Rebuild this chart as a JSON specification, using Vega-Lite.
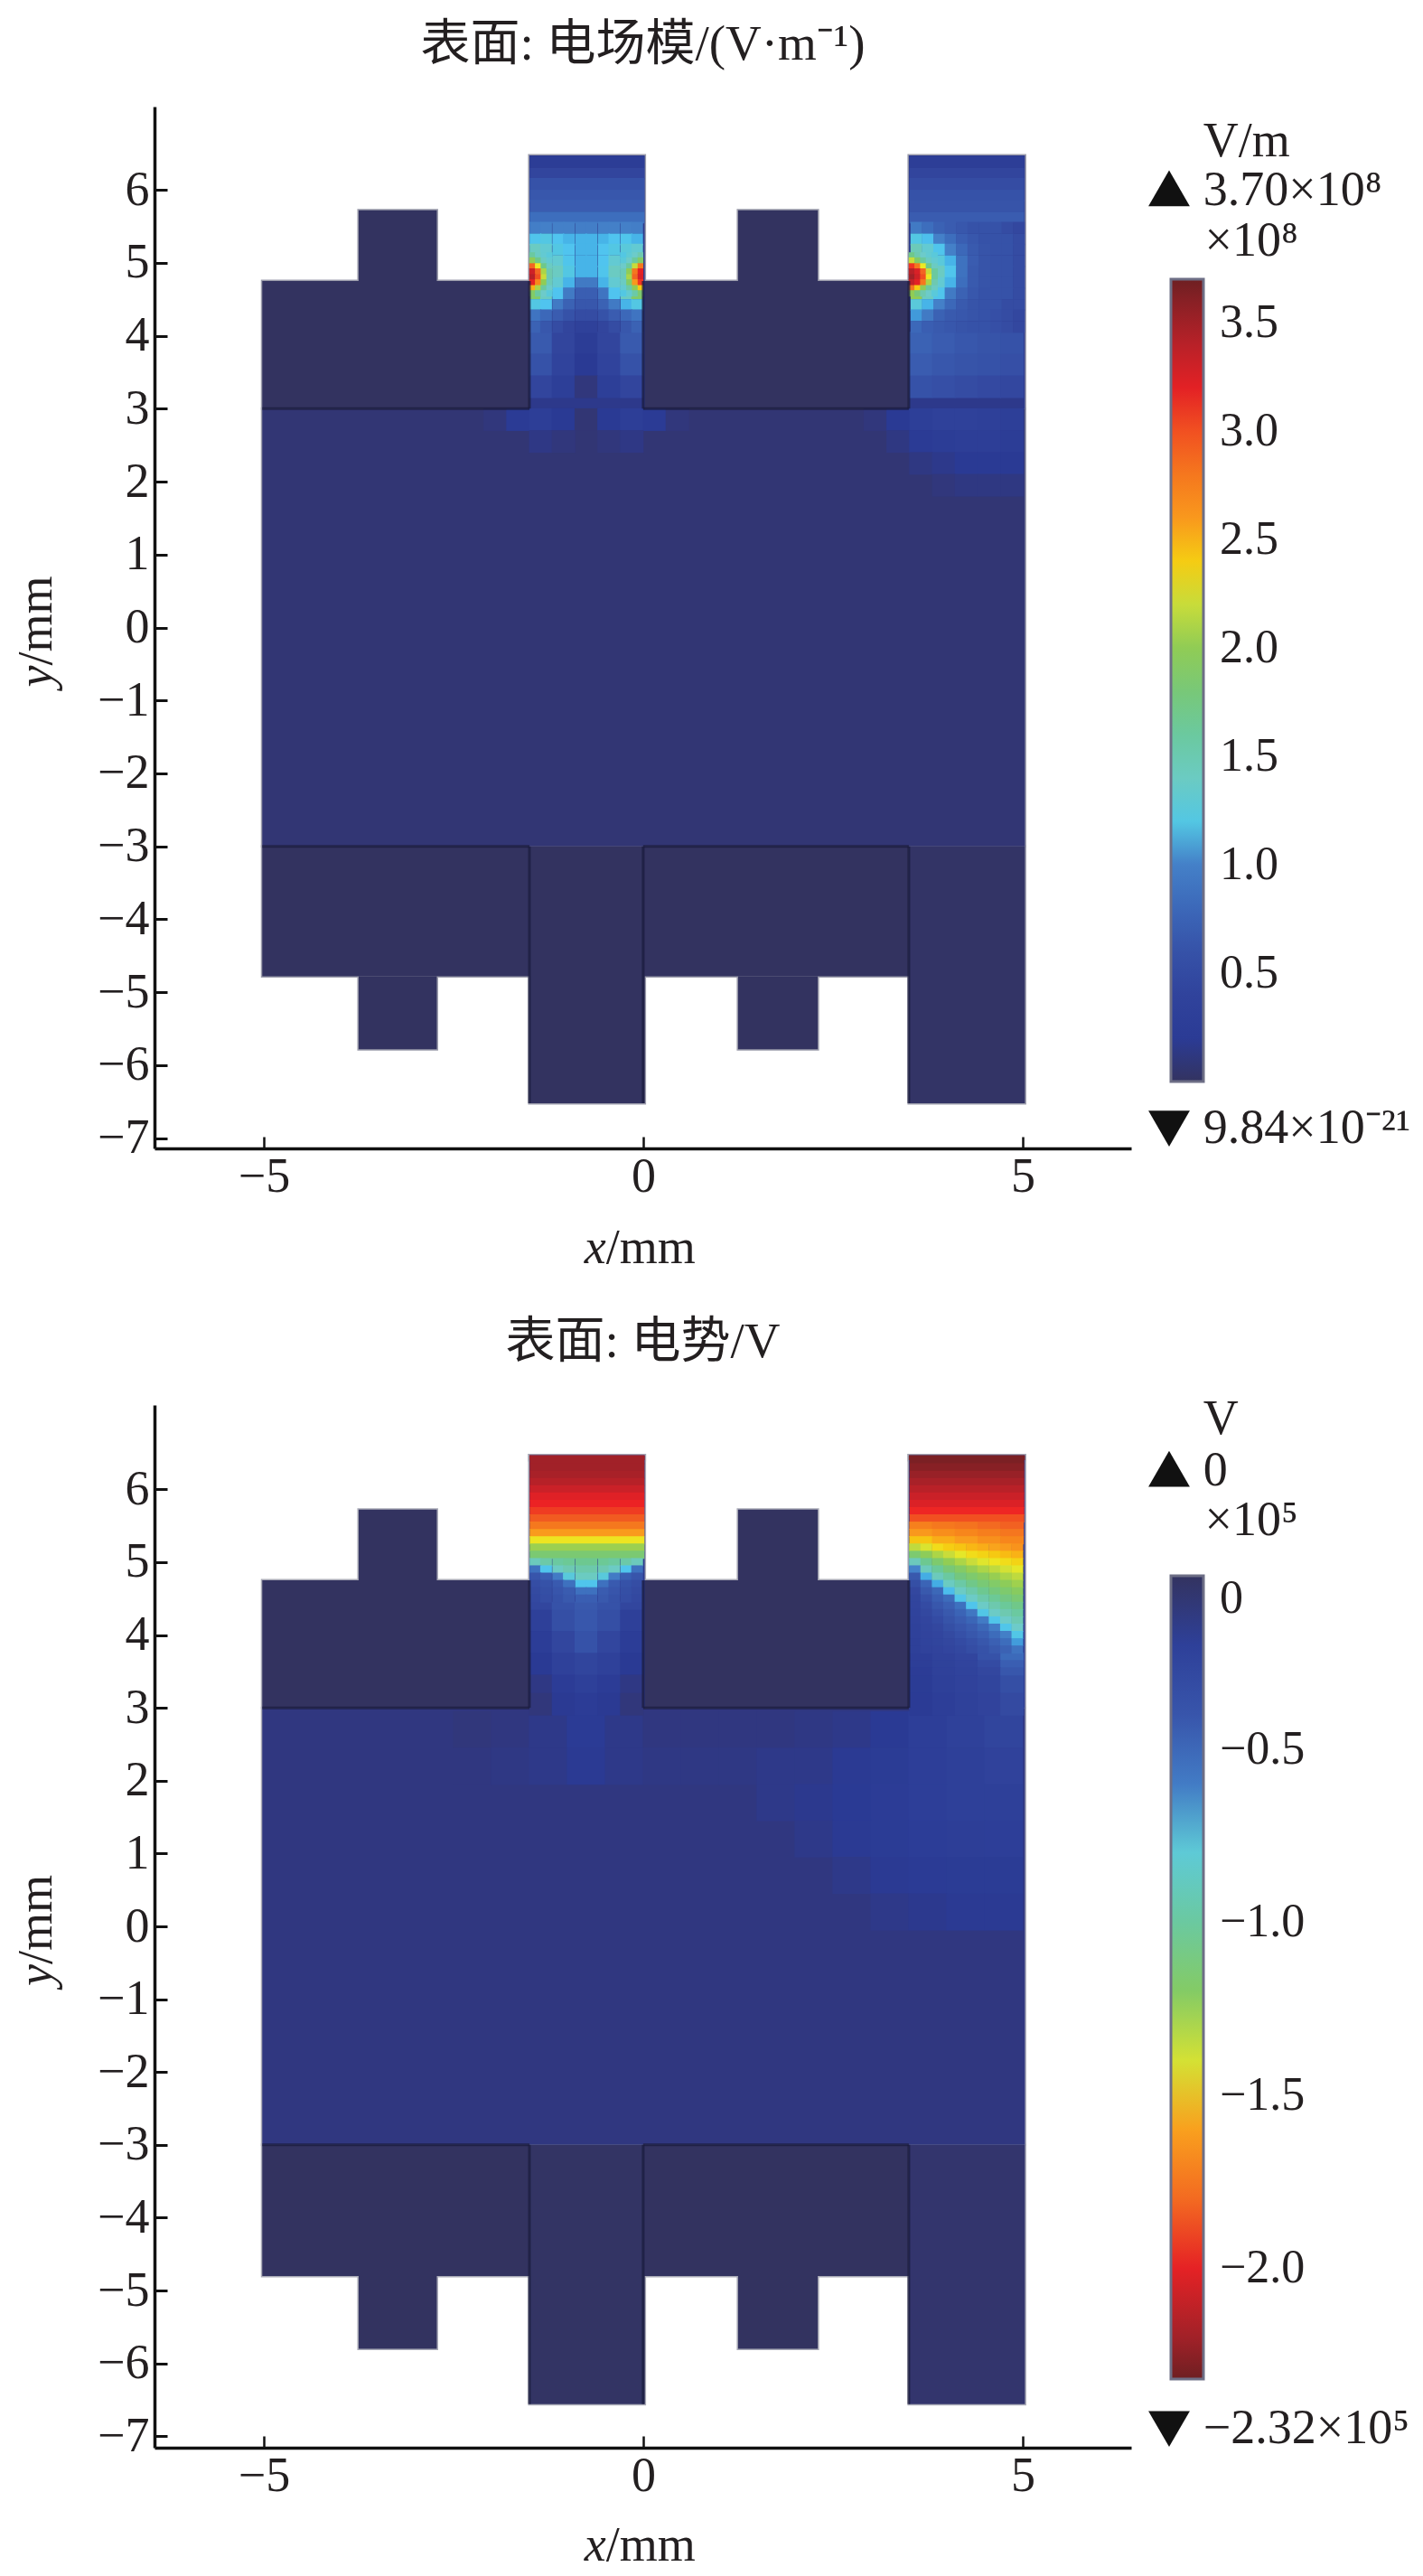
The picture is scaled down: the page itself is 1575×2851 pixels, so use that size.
{"$schema":"https://vega.github.io/schema/vega-lite/v6.json","background":"white","padding":{"left":13,"top":21,"right":0,"bottom":0},"bounds":"flush","spacing":284,"resolve":{"scale":{"color":"independent"}},"config":{"view":{"stroke":null},"text":{"font":"Liberation Serif"}},
"datasets":{
"a_shape":[{"x":-5.02,"X":5.03,"y":-3,"Y":3,"v":0.07},{"x":-5.02,"X":-1.5,"y":3,"Y":4.75,"v":0},{"x":0,"X":3.5,"y":3,"Y":4.75,"v":0},{"x":-3.75,"X":-2.72,"y":4.75,"Y":5.72,"v":0},{"x":1.25,"X":2.3,"y":4.75,"Y":5.72,"v":0},{"x":-1.5,"X":0.02,"y":3,"Y":6.47,"v":0.15},{"x":3.5,"X":5.03,"y":3,"Y":6.47,"v":0.15},{"x":-5.02,"X":-1.5,"y":-4.78,"Y":-3,"v":0},{"x":0,"X":3.5,"y":-4.78,"Y":-3,"v":0},{"x":-3.75,"X":-2.72,"y":-5.78,"Y":-4.78,"v":0},{"x":1.25,"X":2.3,"y":-5.78,"Y":-4.78,"v":0},{"x":-1.5,"X":0.02,"y":-6.52,"Y":-3,"v":0},{"x":3.5,"X":5.03,"y":-6.52,"Y":-3,"v":0.02}],
"a_band":[{"x":-0.74,"y":6.38,"v":0.25},{"x":-0.74,"y":6.22,"v":0.45},{"x":-0.74,"y":6.08,"v":0.6},{"x":-0.74,"y":5.92,"v":0.65},{"x":-0.74,"y":5.78,"v":0.7},{"x":-0.74,"y":5.62,"v":0.85},{"x":4.265,"y":6.38,"v":0.28},{"x":4.265,"y":6.22,"v":0.45},{"x":4.265,"y":6.08,"v":0.55},{"x":4.265,"y":5.92,"v":0.6},{"x":4.265,"y":5.78,"v":0.62},{"x":4.265,"y":5.62,"v":0.7}],
"a_fine":[
{"x":-1.42,"y":5.48,"v":0.98},{"x":-1.28,"y":5.48,"v":1.0},{"x":-1.12,"y":5.48,"v":1.0},{"x":-0.98,"y":5.48,"v":1.0},{"x":-0.82,"y":5.48,"v":0.98},{"x":-0.68,"y":5.48,"v":0.98},{"x":-0.52,"y":5.48,"v":1.0},{"x":-0.38,"y":5.48,"v":1.0},{"x":-0.22,"y":5.48,"v":1.0},{"x":-0.08,"y":5.48,"v":0.98},
{"x":-1.42,"y":5.32,"v":1.15},{"x":-1.28,"y":5.32,"v":1.2},{"x":-1.12,"y":5.32,"v":1.13},{"x":-0.98,"y":5.32,"v":1.1},{"x":-0.82,"y":5.32,"v":1.1},{"x":-0.68,"y":5.32,"v":1.1},{"x":-0.52,"y":5.32,"v":1.1},{"x":-0.38,"y":5.32,"v":1.13},{"x":-0.22,"y":5.32,"v":1.15},{"x":-0.08,"y":5.32,"v":1.1},
{"x":-1.42,"y":5.18,"v":1.4},{"x":-1.28,"y":5.18,"v":1.3},{"x":-1.12,"y":5.18,"v":1.2},{"x":-0.98,"y":5.18,"v":1.13},{"x":-0.82,"y":5.18,"v":1.1},{"x":-0.68,"y":5.18,"v":1.1},{"x":-0.52,"y":5.18,"v":1.13},{"x":-0.38,"y":5.18,"v":1.2},{"x":-0.22,"y":5.18,"v":1.25},{"x":-0.08,"y":5.18,"v":1.3},
{"x":-1.42,"y":5.02,"v":2.0},{"x":-1.28,"y":5.02,"v":1.5},{"x":-1.12,"y":5.02,"v":1.3},{"x":-0.98,"y":5.02,"v":1.15},{"x":-0.82,"y":5.02,"v":1.1},{"x":-0.68,"y":5.02,"v":1.1},{"x":-0.52,"y":5.02,"v":1.13},{"x":-0.38,"y":5.02,"v":1.3},{"x":-0.22,"y":5.02,"v":1.5},{"x":-0.08,"y":5.02,"v":2.0},
{"x":-1.42,"y":4.88,"v":3.2},{"x":-1.28,"y":4.88,"v":2.2},{"x":-1.12,"y":4.88,"v":1.4},{"x":-0.98,"y":4.88,"v":1.2},{"x":-0.82,"y":4.88,"v":1.1},{"x":-0.68,"y":4.88,"v":1.1},{"x":-0.52,"y":4.88,"v":1.15},{"x":-0.38,"y":4.88,"v":1.4},{"x":-0.22,"y":4.88,"v":2.1},{"x":-0.08,"y":4.88,"v":3.1},
{"x":-1.42,"y":4.72,"v":3.0},{"x":-1.28,"y":4.72,"v":2.0},{"x":-1.12,"y":4.72,"v":1.3},{"x":-0.98,"y":4.72,"v":1.1},{"x":-0.82,"y":4.72,"v":0.95},{"x":-0.68,"y":4.72,"v":0.95},{"x":-0.52,"y":4.72,"v":1.1},{"x":-0.38,"y":4.72,"v":1.3},{"x":-0.22,"y":4.72,"v":1.9},{"x":-0.08,"y":4.72,"v":2.9},
{"x":-1.42,"y":4.58,"v":1.9},{"x":-1.28,"y":4.58,"v":1.4},{"x":-1.12,"y":4.58,"v":1.13},{"x":-0.98,"y":4.58,"v":0.95},{"x":-0.82,"y":4.58,"v":0.72},{"x":-0.68,"y":4.58,"v":0.72},{"x":-0.52,"y":4.58,"v":0.9},{"x":-0.38,"y":4.58,"v":1.13},{"x":-0.22,"y":4.58,"v":1.4},{"x":-0.08,"y":4.58,"v":1.9},
{"x":-1.42,"y":4.42,"v":1.2},{"x":-1.28,"y":4.42,"v":1.13},{"x":-1.12,"y":4.42,"v":0.95},{"x":-0.98,"y":4.42,"v":0.75},{"x":-0.82,"y":4.42,"v":0.65},{"x":-0.68,"y":4.42,"v":0.65},{"x":-0.52,"y":4.42,"v":0.75},{"x":-0.38,"y":4.42,"v":0.95},{"x":-0.22,"y":4.42,"v":1.1},{"x":-0.08,"y":4.42,"v":1.2},
{"x":-1.42,"y":4.28,"v":0.9},{"x":-1.28,"y":4.28,"v":0.8},{"x":-1.12,"y":4.28,"v":0.7},{"x":-0.98,"y":4.28,"v":0.6},{"x":-0.82,"y":4.28,"v":0.55},{"x":-0.68,"y":4.28,"v":0.55},{"x":-0.52,"y":4.28,"v":0.6},{"x":-0.38,"y":4.28,"v":0.7},{"x":-0.22,"y":4.28,"v":0.8},{"x":-0.08,"y":4.28,"v":0.9},
{"x":-1.42,"y":4.12,"v":0.75},{"x":-1.28,"y":4.12,"v":0.65},{"x":-1.12,"y":4.12,"v":0.55},{"x":-0.98,"y":4.12,"v":0.45},{"x":-0.82,"y":4.12,"v":0.35},{"x":-0.68,"y":4.12,"v":0.35},{"x":-0.52,"y":4.12,"v":0.45},{"x":-0.38,"y":4.12,"v":0.55},{"x":-0.22,"y":4.12,"v":0.65},{"x":-0.08,"y":4.12,"v":0.75},
{"x":3.6,"y":5.48,"v":0.95},{"x":3.75,"y":5.48,"v":0.85},{"x":3.9,"y":5.48,"v":0.75},{"x":4.05,"y":5.48,"v":0.7},{"x":4.2,"y":5.48,"v":0.65},{"x":4.35,"y":5.48,"v":0.6},{"x":4.5,"y":5.48,"v":0.6},{"x":4.65,"y":5.48,"v":0.6},{"x":4.8,"y":5.48,"v":0.55},{"x":4.95,"y":5.48,"v":0.5},
{"x":3.6,"y":5.32,"v":1.2},{"x":3.75,"y":5.32,"v":1.12},{"x":3.9,"y":5.32,"v":1.0},{"x":4.05,"y":5.32,"v":0.85},{"x":4.2,"y":5.32,"v":0.72},{"x":4.35,"y":5.32,"v":0.65},{"x":4.5,"y":5.32,"v":0.6},{"x":4.65,"y":5.32,"v":0.6},{"x":4.8,"y":5.32,"v":0.6},{"x":4.95,"y":5.32,"v":0.55},
{"x":3.6,"y":5.18,"v":1.45},{"x":3.75,"y":5.18,"v":1.3},{"x":3.9,"y":5.18,"v":1.15},{"x":4.05,"y":5.18,"v":1.0},{"x":4.2,"y":5.18,"v":0.8},{"x":4.35,"y":5.18,"v":0.68},{"x":4.5,"y":5.18,"v":0.62},{"x":4.65,"y":5.18,"v":0.6},{"x":4.8,"y":5.18,"v":0.6},{"x":4.95,"y":5.18,"v":0.55},
{"x":3.6,"y":5.02,"v":2.2},{"x":3.75,"y":5.02,"v":1.6},{"x":3.9,"y":5.02,"v":1.25},{"x":4.05,"y":5.02,"v":1.1},{"x":4.2,"y":5.02,"v":0.88},{"x":4.35,"y":5.02,"v":0.7},{"x":4.5,"y":5.02,"v":0.62},{"x":4.65,"y":5.02,"v":0.6},{"x":4.8,"y":5.02,"v":0.6},{"x":4.95,"y":5.02,"v":0.55},
{"x":3.6,"y":4.88,"v":3.3},{"x":3.75,"y":4.88,"v":2.3},{"x":3.9,"y":4.88,"v":1.4},{"x":4.05,"y":4.88,"v":1.15},{"x":4.2,"y":4.88,"v":0.88},{"x":4.35,"y":4.88,"v":0.68},{"x":4.5,"y":4.88,"v":0.62},{"x":4.65,"y":4.88,"v":0.6},{"x":4.8,"y":4.88,"v":0.6},{"x":4.95,"y":4.88,"v":0.55},
{"x":3.6,"y":4.72,"v":3.1},{"x":3.75,"y":4.72,"v":2.1},{"x":3.9,"y":4.72,"v":1.3},{"x":4.05,"y":4.72,"v":1.1},{"x":4.2,"y":4.72,"v":0.85},{"x":4.35,"y":4.72,"v":0.68},{"x":4.5,"y":4.72,"v":0.62},{"x":4.65,"y":4.72,"v":0.6},{"x":4.8,"y":4.72,"v":0.6},{"x":4.95,"y":4.72,"v":0.55},
{"x":3.6,"y":4.58,"v":2.0},{"x":3.75,"y":4.58,"v":1.4},{"x":3.9,"y":4.58,"v":1.15},{"x":4.05,"y":4.58,"v":0.95},{"x":4.2,"y":4.58,"v":0.75},{"x":4.35,"y":4.58,"v":0.65},{"x":4.5,"y":4.58,"v":0.6},{"x":4.65,"y":4.58,"v":0.6},{"x":4.8,"y":4.58,"v":0.6},{"x":4.95,"y":4.58,"v":0.55},
{"x":3.6,"y":4.42,"v":1.25},{"x":3.75,"y":4.42,"v":1.1},{"x":3.9,"y":4.42,"v":1.0},{"x":4.05,"y":4.42,"v":0.8},{"x":4.2,"y":4.42,"v":0.68},{"x":4.35,"y":4.42,"v":0.62},{"x":4.5,"y":4.42,"v":0.6},{"x":4.65,"y":4.42,"v":0.6},{"x":4.8,"y":4.42,"v":0.55},{"x":4.95,"y":4.42,"v":0.55},
{"x":3.6,"y":4.28,"v":1.05},{"x":3.75,"y":4.28,"v":0.95},{"x":3.9,"y":4.28,"v":0.75},{"x":4.05,"y":4.28,"v":0.68},{"x":4.2,"y":4.28,"v":0.65},{"x":4.35,"y":4.28,"v":0.62},{"x":4.5,"y":4.28,"v":0.6},{"x":4.65,"y":4.28,"v":0.58},{"x":4.8,"y":4.28,"v":0.55},{"x":4.95,"y":4.28,"v":0.5},
{"x":3.6,"y":4.12,"v":0.8},{"x":3.75,"y":4.12,"v":0.72},{"x":3.9,"y":4.12,"v":0.68},{"x":4.05,"y":4.12,"v":0.65},{"x":4.2,"y":4.12,"v":0.62},{"x":4.35,"y":4.12,"v":0.6},{"x":4.5,"y":4.12,"v":0.6},{"x":4.65,"y":4.12,"v":0.58},{"x":4.8,"y":4.12,"v":0.55},{"x":4.95,"y":4.12,"v":0.5}],
"a_hot":[
{"x":-1.46,"y":5.1,"v":1.6},{"x":-1.385,"y":5.1,"v":1.4},{"x":-1.31,"y":5.1,"v":1.3},{"x":-1.235,"y":5.1,"v":1.25},
{"x":-1.46,"y":5.03,"v":2.0},{"x":-1.385,"y":5.03,"v":1.7},{"x":-1.31,"y":5.03,"v":1.4},{"x":-1.235,"y":5.03,"v":1.3},
{"x":-1.46,"y":4.95,"v":2.9},{"x":-1.385,"y":4.95,"v":2.3},{"x":-1.31,"y":4.95,"v":1.7},{"x":-1.235,"y":4.95,"v":1.4},
{"x":-1.46,"y":4.88,"v":3.3},{"x":-1.385,"y":4.88,"v":2.9},{"x":-1.31,"y":4.88,"v":2.1},{"x":-1.235,"y":4.88,"v":1.5},
{"x":-1.46,"y":4.8,"v":3.4},{"x":-1.385,"y":4.8,"v":3.0},{"x":-1.31,"y":4.8,"v":2.2},{"x":-1.235,"y":4.8,"v":1.5},
{"x":-1.46,"y":4.73,"v":3.2},{"x":-1.385,"y":4.73,"v":2.7},{"x":-1.31,"y":4.73,"v":2.0},{"x":-1.235,"y":4.73,"v":1.45},
{"x":-1.46,"y":4.65,"v":2.5},{"x":-1.385,"y":4.65,"v":2.1},{"x":-1.31,"y":4.65,"v":1.6},{"x":-1.235,"y":4.65,"v":1.35},
{"x":-1.46,"y":4.58,"v":1.9},{"x":-1.385,"y":4.58,"v":1.6},{"x":-1.31,"y":4.58,"v":1.35},{"x":-1.235,"y":4.58,"v":1.25},
{"x":-0.04,"y":5.1,"v":1.5},{"x":-0.115,"y":5.1,"v":1.35},{"x":-0.19,"y":5.1,"v":1.28},{"x":-0.265,"y":5.1,"v":1.2},
{"x":-0.04,"y":5.03,"v":1.9},{"x":-0.115,"y":5.03,"v":1.6},{"x":-0.19,"y":5.03,"v":1.35},{"x":-0.265,"y":5.03,"v":1.25},
{"x":-0.04,"y":4.95,"v":2.8},{"x":-0.115,"y":4.95,"v":2.2},{"x":-0.19,"y":4.95,"v":1.6},{"x":-0.265,"y":4.95,"v":1.35},
{"x":-0.04,"y":4.88,"v":3.2},{"x":-0.115,"y":4.88,"v":2.8},{"x":-0.19,"y":4.88,"v":2.0},{"x":-0.265,"y":4.88,"v":1.45},
{"x":-0.04,"y":4.8,"v":3.25},{"x":-0.115,"y":4.8,"v":2.9},{"x":-0.19,"y":4.8,"v":2.1},{"x":-0.265,"y":4.8,"v":1.45},
{"x":-0.04,"y":4.73,"v":3.1},{"x":-0.115,"y":4.73,"v":2.6},{"x":-0.19,"y":4.73,"v":1.9},{"x":-0.265,"y":4.73,"v":1.4},
{"x":-0.04,"y":4.65,"v":2.4},{"x":-0.115,"y":4.65,"v":2.0},{"x":-0.19,"y":4.65,"v":1.55},{"x":-0.265,"y":4.65,"v":1.3},
{"x":-0.04,"y":4.58,"v":1.85},{"x":-0.115,"y":4.58,"v":1.55},{"x":-0.19,"y":4.58,"v":1.3},{"x":-0.265,"y":4.58,"v":1.2},
{"x":3.54,"y":5.1,"v":1.7},{"x":3.615,"y":5.1,"v":1.5},{"x":3.69,"y":5.1,"v":1.35},{"x":3.765,"y":5.1,"v":1.3},{"x":3.84,"y":5.1,"v":1.25},
{"x":3.54,"y":5.03,"v":2.2},{"x":3.615,"y":5.03,"v":1.9},{"x":3.69,"y":5.03,"v":1.6},{"x":3.765,"y":5.03,"v":1.4},{"x":3.84,"y":5.03,"v":1.3},
{"x":3.54,"y":4.95,"v":3.1},{"x":3.615,"y":4.95,"v":2.8},{"x":3.69,"y":4.95,"v":2.3},{"x":3.765,"y":4.95,"v":1.7},{"x":3.84,"y":4.95,"v":1.4},
{"x":3.54,"y":4.88,"v":3.4},{"x":3.615,"y":4.88,"v":3.25},{"x":3.69,"y":4.88,"v":2.9},{"x":3.765,"y":4.88,"v":2.2},{"x":3.84,"y":4.88,"v":1.6},
{"x":3.54,"y":4.8,"v":3.5},{"x":3.615,"y":4.8,"v":3.3},{"x":3.69,"y":4.8,"v":3.0},{"x":3.765,"y":4.8,"v":2.3},{"x":3.84,"y":4.8,"v":1.6},
{"x":3.54,"y":4.73,"v":3.35},{"x":3.615,"y":4.73,"v":3.2},{"x":3.69,"y":4.73,"v":2.8},{"x":3.765,"y":4.73,"v":2.1},{"x":3.84,"y":4.73,"v":1.5},
{"x":3.54,"y":4.65,"v":2.8},{"x":3.615,"y":4.65,"v":2.4},{"x":3.69,"y":4.65,"v":2.0},{"x":3.765,"y":4.65,"v":1.6},{"x":3.84,"y":4.65,"v":1.4},
{"x":3.54,"y":4.58,"v":2.0},{"x":3.615,"y":4.58,"v":1.8},{"x":3.69,"y":4.58,"v":1.5},{"x":3.765,"y":4.58,"v":1.35},{"x":3.84,"y":4.58,"v":1.25}],
"a_coarse":[
{"x":-1.35,"y":3.9,"v":0.68},{"x":-1.05,"y":3.9,"v":0.45},{"x":-0.75,"y":3.9,"v":0.25},{"x":-0.45,"y":3.9,"v":0.45},{"x":-0.15,"y":3.9,"v":0.68},
{"x":-1.35,"y":3.6,"v":0.6},{"x":-1.05,"y":3.6,"v":0.4},{"x":-0.75,"y":3.6,"v":0.18},{"x":-0.45,"y":3.6,"v":0.4},{"x":-0.15,"y":3.6,"v":0.6},
{"x":-1.35,"y":3.3,"v":0.45},{"x":-1.05,"y":3.3,"v":0.3},{"x":-0.75,"y":3.3,"v":0.1},{"x":-0.45,"y":3.3,"v":0.3},{"x":-0.15,"y":3.3,"v":0.45},
{"x":3.66,"y":3.9,"v":0.75},{"x":3.96,"y":3.9,"v":0.7},{"x":4.26,"y":3.9,"v":0.65},{"x":4.56,"y":3.9,"v":0.62},{"x":4.86,"y":3.9,"v":0.6},
{"x":3.66,"y":3.6,"v":0.7},{"x":3.96,"y":3.6,"v":0.65},{"x":4.26,"y":3.6,"v":0.62},{"x":4.56,"y":3.6,"v":0.6},{"x":4.86,"y":3.6,"v":0.58},
{"x":3.66,"y":3.3,"v":0.6},{"x":3.96,"y":3.3,"v":0.58},{"x":4.26,"y":3.3,"v":0.55},{"x":4.56,"y":3.3,"v":0.52},{"x":4.86,"y":3.3,"v":0.5},
{"x":-1.95,"y":2.85,"v":0.1},{"x":-1.65,"y":2.85,"v":0.2},{"x":-1.35,"y":2.85,"v":0.28},{"x":-1.05,"y":2.85,"v":0.18},{"x":-0.75,"y":2.85,"v":0.07},{"x":-0.45,"y":2.85,"v":0.18},{"x":-0.15,"y":2.85,"v":0.28},{"x":0.15,"y":2.85,"v":0.2},{"x":0.45,"y":2.85,"v":0.1},
{"x":-1.35,"y":2.55,"v":0.13},{"x":-1.05,"y":2.55,"v":0.1},{"x":-0.45,"y":2.55,"v":0.1},{"x":-0.15,"y":2.55,"v":0.13},
{"x":3.06,"y":2.85,"v":0.1},{"x":3.36,"y":2.85,"v":0.18},{"x":3.66,"y":2.85,"v":0.3},{"x":3.96,"y":2.85,"v":0.35},{"x":4.26,"y":2.85,"v":0.35},{"x":4.56,"y":2.85,"v":0.33},{"x":4.86,"y":2.85,"v":0.3},
{"x":3.36,"y":2.55,"v":0.12},{"x":3.66,"y":2.55,"v":0.2},{"x":3.96,"y":2.55,"v":0.25},{"x":4.26,"y":2.55,"v":0.28},{"x":4.56,"y":2.55,"v":0.28},{"x":4.86,"y":2.55,"v":0.25},
{"x":3.66,"y":2.25,"v":0.12},{"x":3.96,"y":2.25,"v":0.15},{"x":4.26,"y":2.25,"v":0.18},{"x":4.56,"y":2.25,"v":0.18},{"x":4.86,"y":2.25,"v":0.18},
{"x":3.96,"y":1.95,"v":0.1},{"x":4.26,"y":1.95,"v":0.12},{"x":4.56,"y":1.95,"v":0.12},{"x":4.86,"y":1.95,"v":0.12}],
"a_line":[{"x":-5.02,"X":-1.5,"y":3,"Y":3},{"x":0,"X":3.5,"y":3,"Y":3},{"x":-1.5,"X":-1.5,"y":3,"Y":4.75},{"x":0,"X":0,"y":3,"Y":4.75},{"x":3.5,"X":3.5,"y":3,"Y":4.75},{"x":-5.02,"X":-1.5,"y":-3,"Y":-3},{"x":0,"X":3.5,"y":-3,"Y":-3},{"x":-1.5,"X":-1.5,"y":-6.52,"Y":-3},{"x":0,"X":0,"y":-6.52,"Y":-3},{"x":3.5,"X":3.5,"y":-6.52,"Y":-3}],
"a_text":[{"x":7.38,"y":6.66,"t":"V/m"},{"x":7.38,"y":5.99,"t":"3.70×10⁸"},{"x":7.4,"y":5.3,"t":"×10⁸"},{"x":7.38,"y":-6.87,"t":"9.84×10⁻²¹"}],
"a_up":[{"x":6.93,"y":6.02}],"a_down":[{"x":6.93,"y":-6.87}],
"b_shape":[{"x":-5.02,"X":5.03,"y":-3,"Y":3,"v":-0.07},{"x":-5.02,"X":-1.5,"y":3,"Y":4.75,"v":0},{"x":0,"X":3.5,"y":3,"Y":4.75,"v":0},{"x":-3.75,"X":-2.72,"y":4.75,"Y":5.72,"v":0},{"x":1.25,"X":2.3,"y":4.75,"Y":5.72,"v":0},{"x":-1.5,"X":0.02,"y":3,"Y":6.47,"v":-0.1},{"x":3.5,"X":5.03,"y":3,"Y":6.47,"v":-0.1},{"x":-1.5,"X":0.02,"y":6.4,"Y":6.47,"v":-2.2},{"x":3.5,"X":5.03,"y":6.4,"Y":6.47,"v":-2.29},{"x":-5.02,"X":-1.5,"y":-4.8,"Y":-3,"v":0},{"x":0,"X":3.5,"y":-4.8,"Y":-3,"v":0},{"x":-3.75,"X":-2.72,"y":-5.8,"Y":-4.8,"v":0},{"x":1.25,"X":2.3,"y":-5.8,"Y":-4.8,"v":0},{"x":-1.5,"X":0.02,"y":-6.56,"Y":-3,"v":-0.01},{"x":3.5,"X":5.03,"y":-6.56,"Y":-3,"v":-0.03}],
"b_band":[{"x":-0.74,"y":6.4,"v":-2.2},{"x":-0.74,"y":6.3,"v":-2.2},{"x":-0.74,"y":6.2,"v":-2.18},{"x":-0.74,"y":6.1,"v":-2.14},{"x":-0.74,"y":6.0,"v":-2.08},{"x":-0.74,"y":5.9,"v":-2.02},{"x":-0.74,"y":5.8,"v":-1.98},{"x":-0.74,"y":5.7,"v":-1.93},{"x":-0.74,"y":5.6,"v":-1.85},{"x":-0.74,"y":5.5,"v":-1.75},{"x":-0.74,"y":5.4,"v":-1.62},{"x":-0.74,"y":5.3,"v":-1.45},{"x":-0.74,"y":5.2,"v":-1.28},{"x":-0.74,"y":5.1,"v":-1.15},
{"x":4.265,"y":6.4,"v":-2.29},{"x":4.265,"y":6.3,"v":-2.26},{"x":4.265,"y":6.2,"v":-2.22},{"x":4.265,"y":6.1,"v":-2.18},{"x":4.265,"y":6.0,"v":-2.13},{"x":4.265,"y":5.9,"v":-2.08},{"x":4.265,"y":5.8,"v":-2.03},{"x":4.265,"y":5.7,"v":-1.97},{"x":4.265,"y":5.6,"v":-1.88}],
"b_cell":[
{"x":-1.35,"y":4.4,"v":-0.3},{"x":-1.05,"y":4.4,"v":-0.38},{"x":-0.75,"y":4.4,"v":-0.42},{"x":-0.45,"y":4.4,"v":-0.38},{"x":-0.15,"y":4.4,"v":-0.3},
{"x":3.66,"y":5.5,"v":-1.72},{"x":3.96,"y":5.5,"v":-1.75},{"x":4.26,"y":5.5,"v":-1.77},{"x":4.56,"y":5.5,"v":-1.8},{"x":4.86,"y":5.5,"v":-1.83},
{"x":3.66,"y":5.4,"v":-1.63},{"x":3.96,"y":5.4,"v":-1.67},{"x":4.26,"y":5.4,"v":-1.7},{"x":4.56,"y":5.4,"v":-1.73},{"x":4.86,"y":5.4,"v":-1.76},
{"x":3.66,"y":5.3,"v":-1.52},{"x":3.96,"y":5.3,"v":-1.57},{"x":4.26,"y":5.3,"v":-1.61},{"x":4.56,"y":5.3,"v":-1.66},{"x":4.86,"y":5.3,"v":-1.7},
{"x":3.66,"y":3.7,"v":-0.18},{"x":3.96,"y":3.7,"v":-0.24},{"x":4.26,"y":3.7,"v":-0.29},{"x":4.56,"y":3.7,"v":-0.38},{"x":4.86,"y":3.7,"v":-0.51},
{"x":3.66,"y":3.6,"v":-0.17},{"x":3.96,"y":3.6,"v":-0.23},{"x":4.26,"y":3.6,"v":-0.27},{"x":4.56,"y":3.6,"v":-0.34},{"x":4.86,"y":3.6,"v":-0.45},
{"x":3.66,"y":3.5,"v":-0.15},{"x":3.96,"y":3.5,"v":-0.22},{"x":4.26,"y":3.5,"v":-0.25},{"x":4.56,"y":3.5,"v":-0.31},{"x":4.86,"y":3.5,"v":-0.41}],
"b_fine":[
{"x":-1.42,"y":5.0,"v":-0.9},{"x":-1.28,"y":5.0,"v":-0.97},{"x":-1.12,"y":5.0,"v":-1.0},{"x":-0.98,"y":5.0,"v":-1.03},{"x":-0.82,"y":5.0,"v":-1.05},{"x":-0.68,"y":5.0,"v":-1.05},{"x":-0.52,"y":5.0,"v":-1.03},{"x":-0.38,"y":5.0,"v":-1.0},{"x":-0.22,"y":5.0,"v":-0.97},{"x":-0.08,"y":5.0,"v":-0.9},
{"x":-1.42,"y":4.9,"v":-0.55},{"x":-1.28,"y":4.9,"v":-0.72},{"x":-1.12,"y":4.9,"v":-0.87},{"x":-0.98,"y":4.9,"v":-0.93},{"x":-0.82,"y":4.9,"v":-0.96},{"x":-0.68,"y":4.9,"v":-0.96},{"x":-0.52,"y":4.9,"v":-0.93},{"x":-0.38,"y":4.9,"v":-0.87},{"x":-0.22,"y":4.9,"v":-0.72},{"x":-0.08,"y":4.9,"v":-0.55},
{"x":-1.42,"y":4.8,"v":-0.4},{"x":-1.28,"y":4.8,"v":-0.45},{"x":-1.12,"y":4.8,"v":-0.6},{"x":-0.98,"y":4.8,"v":-0.78},{"x":-0.82,"y":4.8,"v":-0.88},{"x":-0.68,"y":4.8,"v":-0.88},{"x":-0.52,"y":4.8,"v":-0.78},{"x":-0.38,"y":4.8,"v":-0.6},{"x":-0.22,"y":4.8,"v":-0.45},{"x":-0.08,"y":4.8,"v":-0.4},
{"x":-1.42,"y":4.7,"v":-0.35},{"x":-1.28,"y":4.7,"v":-0.38},{"x":-1.12,"y":4.7,"v":-0.43},{"x":-0.98,"y":4.7,"v":-0.55},{"x":-0.82,"y":4.7,"v":-0.72},{"x":-0.68,"y":4.7,"v":-0.72},{"x":-0.52,"y":4.7,"v":-0.55},{"x":-0.38,"y":4.7,"v":-0.43},{"x":-0.22,"y":4.7,"v":-0.38},{"x":-0.08,"y":4.7,"v":-0.35},
{"x":-1.42,"y":4.6,"v":-0.33},{"x":-1.28,"y":4.6,"v":-0.36},{"x":-1.12,"y":4.6,"v":-0.4},{"x":-0.98,"y":4.6,"v":-0.44},{"x":-0.82,"y":4.6,"v":-0.55},{"x":-0.68,"y":4.6,"v":-0.55},{"x":-0.52,"y":4.6,"v":-0.44},{"x":-0.38,"y":4.6,"v":-0.4},{"x":-0.22,"y":4.6,"v":-0.36},{"x":-0.08,"y":4.6,"v":-0.33},
{"x":-1.42,"y":4.5,"v":-0.32},{"x":-1.28,"y":4.5,"v":-0.35},{"x":-1.12,"y":4.5,"v":-0.38},{"x":-0.98,"y":4.5,"v":-0.42},{"x":-0.82,"y":4.5,"v":-0.45},{"x":-0.68,"y":4.5,"v":-0.45},{"x":-0.52,"y":4.5,"v":-0.42},{"x":-0.38,"y":4.5,"v":-0.38},{"x":-0.22,"y":4.5,"v":-0.35},{"x":-0.08,"y":4.5,"v":-0.32},
{"x":3.58,"y":5.2,"v":-1.36},{"x":3.73,"y":5.2,"v":-1.41},{"x":3.88,"y":5.2,"v":-1.47},{"x":4.03,"y":5.2,"v":-1.5},{"x":4.18,"y":5.2,"v":-1.52},{"x":4.33,"y":5.2,"v":-1.55},{"x":4.48,"y":5.2,"v":-1.57},{"x":4.63,"y":5.2,"v":-1.59},{"x":4.78,"y":5.2,"v":-1.62},{"x":4.93,"y":5.2,"v":-1.65},
{"x":3.58,"y":5.1,"v":-1.16},{"x":3.73,"y":5.1,"v":-1.24},{"x":3.88,"y":5.1,"v":-1.32},{"x":4.03,"y":5.1,"v":-1.38},{"x":4.18,"y":5.1,"v":-1.43},{"x":4.33,"y":5.1,"v":-1.47},{"x":4.48,"y":5.1,"v":-1.49},{"x":4.63,"y":5.1,"v":-1.51},{"x":4.78,"y":5.1,"v":-1.54},{"x":4.93,"y":5.1,"v":-1.56},
{"x":3.58,"y":5.0,"v":-0.9},{"x":3.73,"y":5.0,"v":-1.05},{"x":3.88,"y":5.0,"v":-1.17},{"x":4.03,"y":5.0,"v":-1.26},{"x":4.18,"y":5.0,"v":-1.32},{"x":4.33,"y":5.0,"v":-1.38},{"x":4.48,"y":5.0,"v":-1.42},{"x":4.63,"y":5.0,"v":-1.45},{"x":4.78,"y":5.0,"v":-1.47},{"x":4.93,"y":5.0,"v":-1.49},
{"x":3.58,"y":4.9,"v":-0.63},{"x":3.73,"y":4.9,"v":-0.9},{"x":3.88,"y":4.9,"v":-1.02},{"x":4.03,"y":4.9,"v":-1.13},{"x":4.18,"y":4.9,"v":-1.2},{"x":4.33,"y":4.9,"v":-1.27},{"x":4.48,"y":4.9,"v":-1.32},{"x":4.63,"y":4.9,"v":-1.36},{"x":4.78,"y":4.9,"v":-1.4},{"x":4.93,"y":4.9,"v":-1.43},
{"x":3.58,"y":4.8,"v":-0.42},{"x":3.73,"y":4.8,"v":-0.68},{"x":3.88,"y":4.8,"v":-0.9},{"x":4.03,"y":4.8,"v":-1.0},{"x":4.18,"y":4.8,"v":-1.1},{"x":4.33,"y":4.8,"v":-1.17},{"x":4.48,"y":4.8,"v":-1.22},{"x":4.63,"y":4.8,"v":-1.27},{"x":4.78,"y":4.8,"v":-1.32},{"x":4.93,"y":4.8,"v":-1.36},
{"x":3.58,"y":4.7,"v":-0.36},{"x":3.73,"y":4.7,"v":-0.48},{"x":3.88,"y":4.7,"v":-0.68},{"x":4.03,"y":4.7,"v":-0.88},{"x":4.18,"y":4.7,"v":-0.98},{"x":4.33,"y":4.7,"v":-1.07},{"x":4.48,"y":4.7,"v":-1.14},{"x":4.63,"y":4.7,"v":-1.19},{"x":4.78,"y":4.7,"v":-1.24},{"x":4.93,"y":4.7,"v":-1.29},
{"x":3.58,"y":4.6,"v":-0.31},{"x":3.73,"y":4.6,"v":-0.42},{"x":3.88,"y":4.6,"v":-0.5},{"x":4.03,"y":4.6,"v":-0.7},{"x":4.18,"y":4.6,"v":-0.87},{"x":4.33,"y":4.6,"v":-0.96},{"x":4.48,"y":4.6,"v":-1.05},{"x":4.63,"y":4.6,"v":-1.11},{"x":4.78,"y":4.6,"v":-1.17},{"x":4.93,"y":4.6,"v":-1.22},
{"x":3.58,"y":4.5,"v":-0.28},{"x":3.73,"y":4.5,"v":-0.37},{"x":3.88,"y":4.5,"v":-0.45},{"x":4.03,"y":4.5,"v":-0.52},{"x":4.18,"y":4.5,"v":-0.73},{"x":4.33,"y":4.5,"v":-0.86},{"x":4.48,"y":4.5,"v":-0.96},{"x":4.63,"y":4.5,"v":-1.03},{"x":4.78,"y":4.5,"v":-1.09},{"x":4.93,"y":4.5,"v":-1.15},
{"x":3.58,"y":4.4,"v":-0.27},{"x":3.73,"y":4.4,"v":-0.34},{"x":3.88,"y":4.4,"v":-0.41},{"x":4.03,"y":4.4,"v":-0.46},{"x":4.18,"y":4.4,"v":-0.55},{"x":4.33,"y":4.4,"v":-0.72},{"x":4.48,"y":4.4,"v":-0.86},{"x":4.63,"y":4.4,"v":-0.95},{"x":4.78,"y":4.4,"v":-1.02},{"x":4.93,"y":4.4,"v":-1.07},
{"x":3.58,"y":4.3,"v":-0.25},{"x":3.73,"y":4.3,"v":-0.32},{"x":3.88,"y":4.3,"v":-0.37},{"x":4.03,"y":4.3,"v":-0.42},{"x":4.18,"y":4.3,"v":-0.48},{"x":4.33,"y":4.3,"v":-0.58},{"x":4.48,"y":4.3,"v":-0.74},{"x":4.63,"y":4.3,"v":-0.86},{"x":4.78,"y":4.3,"v":-0.94},{"x":4.93,"y":4.3,"v":-1.0},
{"x":3.58,"y":4.2,"v":-0.24},{"x":3.73,"y":4.2,"v":-0.29},{"x":3.88,"y":4.2,"v":-0.34},{"x":4.03,"y":4.2,"v":-0.39},{"x":4.18,"y":4.2,"v":-0.44},{"x":4.33,"y":4.2,"v":-0.49},{"x":4.48,"y":4.2,"v":-0.6},{"x":4.63,"y":4.2,"v":-0.73},{"x":4.78,"y":4.2,"v":-0.85},{"x":4.93,"y":4.2,"v":-0.93},
{"x":3.58,"y":4.1,"v":-0.22},{"x":3.73,"y":4.1,"v":-0.27},{"x":3.88,"y":4.1,"v":-0.31},{"x":4.03,"y":4.1,"v":-0.36},{"x":4.18,"y":4.1,"v":-0.4},{"x":4.33,"y":4.1,"v":-0.44},{"x":4.48,"y":4.1,"v":-0.5},{"x":4.63,"y":4.1,"v":-0.61},{"x":4.78,"y":4.1,"v":-0.73},{"x":4.93,"y":4.1,"v":-0.85},
{"x":3.58,"y":4.0,"v":-0.22},{"x":3.73,"y":4.0,"v":-0.26},{"x":3.88,"y":4.0,"v":-0.29},{"x":4.03,"y":4.0,"v":-0.33},{"x":4.18,"y":4.0,"v":-0.37},{"x":4.33,"y":4.0,"v":-0.41},{"x":4.48,"y":4.0,"v":-0.45},{"x":4.63,"y":4.0,"v":-0.52},{"x":4.78,"y":4.0,"v":-0.62},{"x":4.93,"y":4.0,"v":-0.74},
{"x":3.58,"y":3.9,"v":-0.21},{"x":3.73,"y":3.9,"v":-0.25},{"x":3.88,"y":3.9,"v":-0.28},{"x":4.03,"y":3.9,"v":-0.31},{"x":4.18,"y":3.9,"v":-0.34},{"x":4.33,"y":3.9,"v":-0.37},{"x":4.48,"y":3.9,"v":-0.41},{"x":4.63,"y":3.9,"v":-0.46},{"x":4.78,"y":3.9,"v":-0.53},{"x":4.93,"y":3.9,"v":-0.66},
{"x":3.58,"y":3.8,"v":-0.2},{"x":3.73,"y":3.8,"v":-0.24},{"x":3.88,"y":3.8,"v":-0.26},{"x":4.03,"y":3.8,"v":-0.29},{"x":4.18,"y":3.8,"v":-0.32},{"x":4.33,"y":3.8,"v":-0.35},{"x":4.48,"y":3.8,"v":-0.38},{"x":4.63,"y":3.8,"v":-0.42},{"x":4.78,"y":3.8,"v":-0.47},{"x":4.93,"y":3.8,"v":-0.56}],
"b_coarse":[
{"x":-1.35,"y":4.2,"v":-0.2},{"x":-1.05,"y":4.2,"v":-0.36},{"x":-0.75,"y":4.2,"v":-0.41},{"x":-0.45,"y":4.2,"v":-0.36},{"x":-0.15,"y":4.2,"v":-0.2},
{"x":-1.35,"y":3.9,"v":-0.16},{"x":-1.05,"y":3.9,"v":-0.3},{"x":-0.75,"y":3.9,"v":-0.38},{"x":-0.45,"y":3.9,"v":-0.3},{"x":-0.15,"y":3.9,"v":-0.16},
{"x":-1.35,"y":3.6,"v":-0.12},{"x":-1.05,"y":3.6,"v":-0.22},{"x":-0.75,"y":3.6,"v":-0.28},{"x":-0.45,"y":3.6,"v":-0.22},{"x":-0.15,"y":3.6,"v":-0.12},
{"x":-1.35,"y":3.3,"v":-0.08},{"x":-1.05,"y":3.3,"v":-0.15},{"x":-0.75,"y":3.3,"v":-0.2},{"x":-0.45,"y":3.3,"v":-0.15},{"x":-0.15,"y":3.3,"v":-0.08},
{"x":-1.35,"y":3.05,"v":-0.06},{"x":-1.05,"y":3.05,"v":-0.11},{"x":-0.75,"y":3.05,"v":-0.15},{"x":-0.45,"y":3.05,"v":-0.11},{"x":-0.15,"y":3.05,"v":-0.06},
{"x":3.66,"y":3.3,"v":-0.14},{"x":3.96,"y":3.3,"v":-0.2},{"x":4.26,"y":3.3,"v":-0.24},{"x":4.56,"y":3.3,"v":-0.28},{"x":4.86,"y":3.3,"v":-0.36},
{"x":3.66,"y":3.05,"v":-0.13},{"x":3.96,"y":3.05,"v":-0.18},{"x":4.26,"y":3.05,"v":-0.22},{"x":4.56,"y":3.05,"v":-0.26},{"x":4.86,"y":3.05,"v":-0.33}],
"b_body":[
{"x":-2.25,"y":2.7,"v":-0.06},{"x":-1.75,"y":2.7,"v":-0.07},{"x":-1.25,"y":2.7,"v":-0.09},{"x":-0.75,"y":2.7,"v":-0.13},{"x":-0.25,"y":2.7,"v":-0.09},{"x":0.25,"y":2.7,"v":-0.07},{"x":0.75,"y":2.7,"v":-0.07},{"x":1.25,"y":2.7,"v":-0.07},{"x":1.75,"y":2.7,"v":-0.07},{"x":2.25,"y":2.7,"v":-0.08},{"x":2.75,"y":2.7,"v":-0.09},{"x":3.25,"y":2.7,"v":-0.12},{"x":3.75,"y":2.7,"v":-0.18},{"x":4.25,"y":2.7,"v":-0.22},{"x":4.75,"y":2.7,"v":-0.28},
{"x":-2.25,"y":2.2,"v":-0.07},{"x":-1.75,"y":2.2,"v":-0.08},{"x":-1.25,"y":2.2,"v":-0.09},{"x":-0.75,"y":2.2,"v":-0.11},{"x":-0.25,"y":2.2,"v":-0.09},{"x":0.25,"y":2.2,"v":-0.08},{"x":0.75,"y":2.2,"v":-0.08},{"x":1.25,"y":2.2,"v":-0.08},{"x":1.75,"y":2.2,"v":-0.09},{"x":2.25,"y":2.2,"v":-0.09},{"x":2.75,"y":2.2,"v":-0.11},{"x":3.25,"y":2.2,"v":-0.14},{"x":3.75,"y":2.2,"v":-0.18},{"x":4.25,"y":2.2,"v":-0.21},{"x":4.75,"y":2.2,"v":-0.24},
{"x":1.75,"y":1.7,"v":-0.09},{"x":2.25,"y":1.7,"v":-0.1},{"x":2.75,"y":1.7,"v":-0.12},{"x":3.25,"y":1.7,"v":-0.15},{"x":3.75,"y":1.7,"v":-0.18},{"x":4.25,"y":1.7,"v":-0.2},{"x":4.75,"y":1.7,"v":-0.21},
{"x":2.25,"y":1.2,"v":-0.09},{"x":2.75,"y":1.2,"v":-0.11},{"x":3.25,"y":1.2,"v":-0.14},{"x":3.75,"y":1.2,"v":-0.16},{"x":4.25,"y":1.2,"v":-0.17},{"x":4.75,"y":1.2,"v":-0.18},
{"x":2.75,"y":0.7,"v":-0.09},{"x":3.25,"y":0.7,"v":-0.11},{"x":3.75,"y":0.7,"v":-0.13},{"x":4.25,"y":0.7,"v":-0.14},{"x":4.75,"y":0.7,"v":-0.14},
{"x":3.25,"y":0.2,"v":-0.09},{"x":3.75,"y":0.2,"v":-0.1},{"x":4.25,"y":0.2,"v":-0.11},{"x":4.75,"y":0.2,"v":-0.11}],
"b_line":[{"x":-5.02,"X":-1.5,"y":3,"Y":3},{"x":0,"X":3.5,"y":3,"Y":3},{"x":-1.5,"X":-1.5,"y":3,"Y":4.75},{"x":0,"X":0,"y":3,"Y":4.75},{"x":3.5,"X":3.5,"y":3,"Y":4.75},{"x":-5.02,"X":-1.5,"y":-3,"Y":-3},{"x":0,"X":3.5,"y":-3,"Y":-3},{"x":-1.5,"X":-1.5,"y":-6.56,"Y":-3},{"x":0,"X":0,"y":-6.56,"Y":-3},{"x":3.5,"X":3.5,"y":-6.56,"Y":-3}],
"b_text":[{"x":7.38,"y":6.96,"t":"V"},{"x":7.38,"y":6.25,"t":"0"},{"x":7.4,"y":5.57,"t":"×10⁵"},{"x":7.38,"y":-6.9,"t":"−2.32×10⁵"}],
"b_up":[{"x":6.93,"y":6.28}],"b_down":[{"x":6.93,"y":-6.9}],
"xlab":[{"x":-0.49,"y":-8.71,"t":"x","u":"/mm"}],
"ylab":[{"x":-7.8,"y":-0.52,"t":"y","u":"/mm"}]
},
"vconcat":[
{"title":{"text":"表面: 电场模/(V·m⁻¹)","font":"Liberation Serif, Noto Sans CJK SC","fontSize":55,"fontWeight":"normal","color":"#231f20","anchor":"middle","offset":40.5},
"width":1081,"height":1153,
"encoding":{"x":{"field":"x","type":"quantitative","title":null,"scale":{"domain":[-6.44,6.43],"nice":false,"zero":false},"axis":{"values":[-5,0,5],"grid":false,"domainColor":"#111","domainWidth":3.5,"tickColor":"#111","tickWidth":2.5,"tickSize":-13,"labelFont":"Liberation Serif","labelFontSize":54,"labelColor":"#231f20","labelPadding":17,"labelFlush":false}},"y":{"field":"y","type":"quantitative","title":null,"scale":{"domain":[-7.14,7.14],"nice":false,"zero":false},"axis":{"values":[-7,-6,-5,-4,-3,-2,-1,0,1,2,3,4,5,6],"grid":false,"domainColor":"#111","domainWidth":3.5,"tickColor":"#111","tickWidth":3,"tickSize":-14,"labelFont":"Liberation Serif","labelFontSize":54,"labelColor":"#231f20","labelPadding":20,"labelFlush":false}},
"color":{"field":"v","type":"quantitative","scale":{"domain":[0,0.18,0.5,0.7,1,1.13,1.35,1.5,1.75,2,2.2,2.3,2.55,2.9,3.15,3.5,3.7],"range":["#333360","#2a3a94","#33479f","#3a5cb0","#4480c8","#50c4ef","#6dcbca","#6ec9b0","#74c77f","#90cc55","#c8dc3a","#ece924","#f9a01e","#f26522","#ee2224","#a32128","#6e1f22"]},"legend":{"title":null,"orient":"none","legendX":1125,"legendY":191,"direction":"vertical","gradientLength":888,"gradientThickness":36,"gradientStrokeColor":"#6d6e85","gradientStrokeWidth":3,"values":[0.5,1,1.5,2,2.5,3,3.5],"format":".1f","labelFont":"Liberation Serif","labelFontSize":52,"labelColor":"#231f20","labelOffset":18,"labelBaseline":"middle","labelOverlap":false}}},
"layer":[
{"data":{"name":"a_shape"},"mark":{"type":"rect","stroke":"#9b9cab","strokeWidth":3},"encoding":{"x2":{"field":"X"},"y2":{"field":"Y"},"color":{"value":"#9b9cab"}}},
{"data":{"name":"a_shape"},"mark":{"type":"rect"},"encoding":{"x2":{"field":"X"},"y2":{"field":"Y"}}},
{"data":{"name":"a_coarse"},"mark":{"type":"rect","width":26,"height":25}},
{"data":{"name":"a_band"},"mark":{"type":"rect","width":127,"height":13}},
{"data":{"name":"a_fine"},"mark":{"type":"rect","width":13,"height":13}},
{"data":{"name":"a_hot"},"mark":{"type":"rect","width":7,"height":7}},
{"data":{"name":"a_line"},"mark":{"type":"rule","strokeWidth":3,"opacity":0.75},"encoding":{"x2":{"field":"X"},"y2":{"field":"Y"},"color":{"value":"#1b1c3d"}}},
{"data":{"name":"a_text"},"mark":{"type":"text","font":"Liberation Serif","fontSize":54,"align":"left","baseline":"middle"},"encoding":{"text":{"field":"t"},"color":{"value":"#231f20"}}},
{"data":{"name":"a_up"},"mark":{"type":"point","shape":"triangle-up","filled":true,"size":2100,"opacity":1},"encoding":{"color":{"value":"#111"}}},
{"data":{"name":"a_down"},"mark":{"type":"point","shape":"triangle-down","filled":true,"size":2100,"opacity":1},"encoding":{"color":{"value":"#111"}}},
{"data":{"name":"xlab"},"mark":{"type":"text","font":"Liberation Serif","fontSize":54,"fontStyle":"italic","align":"right","baseline":"alphabetic"},"encoding":{"text":{"field":"t"},"color":{"value":"#231f20"}}},
{"data":{"name":"xlab"},"mark":{"type":"text","font":"Liberation Serif","fontSize":54,"align":"left","baseline":"alphabetic"},"encoding":{"text":{"field":"u"},"color":{"value":"#231f20"}}},
{"data":{"name":"ylab"},"mark":{"type":"text","font":"Liberation Serif","fontSize":54,"fontStyle":"italic","angle":270,"align":"right","baseline":"alphabetic"},"encoding":{"text":{"field":"t"},"color":{"value":"#231f20"}}},
{"data":{"name":"ylab"},"mark":{"type":"text","font":"Liberation Serif","fontSize":54,"angle":270,"align":"left","baseline":"alphabetic"},"encoding":{"text":{"field":"u"},"color":{"value":"#231f20"}}}
]},
{"title":{"text":"表面: 电势/V","font":"Liberation Serif, Noto Sans CJK SC","fontSize":55,"fontWeight":"normal","color":"#231f20","anchor":"middle","offset":29.5},
"width":1081,"height":1154,
"encoding":{"x":{"field":"x","type":"quantitative","title":null,"scale":{"domain":[-6.44,6.43],"nice":false,"zero":false},"axis":{"values":[-5,0,5],"grid":false,"domainColor":"#111","domainWidth":3.5,"tickColor":"#111","tickWidth":2.5,"tickSize":-13,"labelFont":"Liberation Serif","labelFontSize":54,"labelColor":"#231f20","labelPadding":17,"labelFlush":false}},"y":{"field":"y","type":"quantitative","title":null,"scale":{"domain":[-7.157,7.157],"nice":false,"zero":false},"axis":{"values":[-7,-6,-5,-4,-3,-2,-1,0,1,2,3,4,5,6],"grid":false,"domainColor":"#111","domainWidth":3.5,"tickColor":"#111","tickWidth":3,"tickSize":-14,"labelFont":"Liberation Serif","labelFontSize":54,"labelColor":"#231f20","labelPadding":20,"labelFlush":false}},
"color":{"field":"v","type":"quantitative","scale":{"domain":[-2.32,-2.195,-1.975,-1.818,-1.599,-1.442,-1.379,-1.254,-1.097,-0.941,-0.846,-0.708,-0.627,-0.439,-0.314,-0.113,0],"range":["#6e1f22","#a32128","#ee2224","#f26522","#f9a01e","#ece924","#c8dc3a","#90cc55","#74c77f","#6ec9b0","#6dcbca","#50c4ef","#4480c8","#3a5cb0","#33479f","#2a3a94","#333360"]},"legend":{"title":null,"orient":"none","legendX":1125,"legendY":189,"direction":"vertical","gradientLength":889,"gradientThickness":36,"gradientStrokeColor":"#6d6e85","gradientStrokeWidth":3,"values":[0,-0.5,-1,-1.5,-2],"labelExpr":"datum.value === 0 ? '0' : format(datum.value, '.1f')","labelFont":"Liberation Serif","labelFontSize":52,"labelColor":"#231f20","labelOffset":18,"labelBaseline":"middle","labelOverlap":false}}},
"layer":[
{"data":{"name":"b_shape"},"mark":{"type":"rect","stroke":"#a9aab6","strokeWidth":3},"encoding":{"x2":{"field":"X"},"y2":{"field":"Y"},"color":{"value":"#a9aab6"}}},
{"data":{"name":"b_shape"},"mark":{"type":"rect"},"encoding":{"x2":{"field":"X"},"y2":{"field":"Y"}}},
{"data":{"name":"b_body"},"mark":{"type":"rect","width":43,"height":41}},
{"data":{"name":"b_coarse"},"mark":{"type":"rect","width":26,"height":25}},
{"data":{"name":"b_band"},"mark":{"type":"rect","width":127,"height":9}},
{"data":{"name":"b_cell"},"mark":{"type":"rect","width":26,"height":9}},
{"data":{"name":"b_fine"},"mark":{"type":"rect","width":13,"height":9}},
{"data":{"name":"b_line"},"mark":{"type":"rule","strokeWidth":3,"opacity":0.75},"encoding":{"x2":{"field":"X"},"y2":{"field":"Y"},"color":{"value":"#1b1c3d"}}},
{"data":{"name":"b_text"},"mark":{"type":"text","font":"Liberation Serif","fontSize":54,"align":"left","baseline":"middle"},"encoding":{"text":{"field":"t"},"color":{"value":"#231f20"}}},
{"data":{"name":"b_up"},"mark":{"type":"point","shape":"triangle-up","filled":true,"size":2100,"opacity":1},"encoding":{"color":{"value":"#111"}}},
{"data":{"name":"b_down"},"mark":{"type":"point","shape":"triangle-down","filled":true,"size":2100,"opacity":1},"encoding":{"color":{"value":"#111"}}},
{"data":{"name":"xlab"},"mark":{"type":"text","font":"Liberation Serif","fontSize":54,"fontStyle":"italic","align":"right","baseline":"alphabetic"},"encoding":{"text":{"field":"t"},"color":{"value":"#231f20"}}},
{"data":{"name":"xlab"},"mark":{"type":"text","font":"Liberation Serif","fontSize":54,"align":"left","baseline":"alphabetic"},"encoding":{"text":{"field":"u"},"color":{"value":"#231f20"}}},
{"data":{"name":"ylab"},"mark":{"type":"text","font":"Liberation Serif","fontSize":54,"fontStyle":"italic","angle":270,"align":"right","baseline":"alphabetic"},"encoding":{"text":{"field":"t"},"color":{"value":"#231f20"}}},
{"data":{"name":"ylab"},"mark":{"type":"text","font":"Liberation Serif","fontSize":54,"angle":270,"align":"left","baseline":"alphabetic"},"encoding":{"text":{"field":"u"},"color":{"value":"#231f20"}}}
]}
]}
